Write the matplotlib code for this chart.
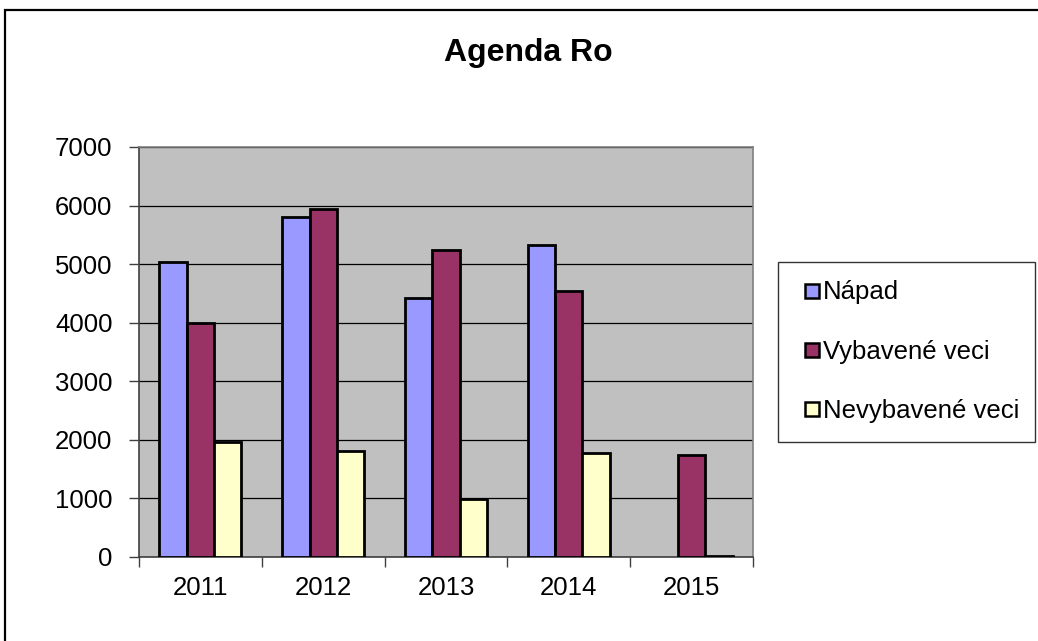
import numpy as np
import matplotlib
matplotlib.use("Agg")
import matplotlib.pyplot as plt
from matplotlib.patches import Rectangle
from matplotlib.lines import Line2D

plt.rcParams['font.family'] = ['Liberation Sans', 'DejaVu Sans']

# data
years = ["2011", "2012", "2013", "2014", "2015"]
napad = [5040, 5800, 4420, 5330, 0]
vybavene = [3990, 5940, 5250, 4550, 1750]
nevybavene = [1970, 1810, 985, 1770, 15]
series_names = ["Nápad", "Vybavené veci", "Nevybavené veci"]
colors = ["#9999FF", "#993366", "#FFFFCC"]

W, H = 1038, 641
fig = plt.figure(figsize=(W / 100, H / 100), dpi=100)
fig.patch.set_facecolor("white")

# outer chart border (only top and left visible)
fig.patches.append(Rectangle((5 / W, -0.2), 1.2, 1.2 - 10 / H, transform=fig.transFigure,
                             fill=False, edgecolor="black", linewidth=1.6))

ax = fig.add_axes([139 / W, 1 - 557 / H, (753 - 139) / W, (557 - 147) / H])
ax.set_facecolor("#C0C0C0")

x = np.arange(len(years))
bw = 1 / 4.5
for i, vals in enumerate([napad, vybavene, nevybavene]):
    vals = np.array(vals, dtype=float)
    keep = vals > 0  # excel draws nothing for a zero value
    ax.bar(x[keep] + (i - 1) * bw, vals[keep], width=bw, color=colors[i], edgecolor="black",
           linewidth=2.0, zorder=3)

ax.set_xlim(-0.5, len(years) - 0.5)
ax.set_ylim(0, 7000)
ax.set_yticks(np.arange(0, 7001, 1000))
ax.yaxis.grid(True, color="black", linewidth=0.9, zorder=1)
ax.set_axisbelow(True)

ax.set_xticks(x)
ax.set_xticklabels(years, fontsize=18.5)
ax.set_xticks(np.arange(-0.5, len(years), 1), minor=True)
ax.tick_params(axis="x", which="major", length=0, pad=14)
ax.tick_params(axis="x", which="minor", length=7, width=1, color="#404040", direction="out")
ax.tick_params(axis="y", length=7, width=1, color="#404040", direction="out", labelsize=18.5, pad=12)

for side in ["top", "right"]:
    ax.spines[side].set_color("#808080")
    ax.spines[side].set_linewidth(1.2)
ax.spines["left"].set_color("#404040")
ax.spines["bottom"].set_color("#404040")
ax.spines["left"].set_linewidth(1.2)
ax.spines["bottom"].set_linewidth(1.2)

fig.text(528.5 / W, 1 - 53 / H, "Agenda Ro", fontsize=23, fontweight="bold",
         ha="center", va="center")

handles = [Line2D([], [], linestyle="none", marker="s", markersize=10, markerfacecolor=c,
                  markeredgecolor="black", markeredgewidth=1.8) for c in colors]
leg = fig.legend(handles, series_names, loc="upper left",
                 bbox_to_anchor=(778 / W, 1 - 262 / H, (1035 - 778) / W, 0), mode="expand",
                 borderaxespad=0, fontsize=18.5, frameon=True, fancybox=False,
                 handlelength=1.2, handletextpad=-0.18,
                 labelspacing=1.38, borderpad=0.72)
leg.get_frame().set_edgecolor("black")
leg.get_frame().set_linewidth(1.0)

fig.savefig("out.png", dpi=100)
